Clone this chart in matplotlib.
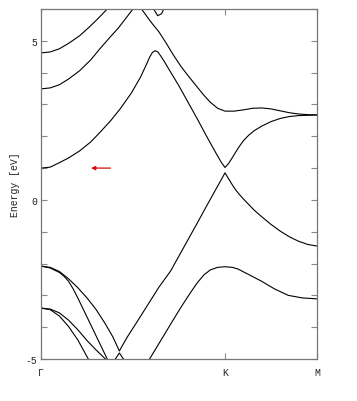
import numpy as np
import matplotlib
matplotlib.use("Agg")
import matplotlib.pyplot as plt

# k-path: Gamma = 0, K = 1, M = 1.5 ; energies in eV
k_a = [0, 0.05, 0.10, 0.15, 0.21, 0.27, 0.32, 0.38, 0.43, 0.49, 0.54, 0.57, 0.59, 0.605, 0.62,
       0.635, 0.65, 0.67, 0.70, 0.75, 0.80, 0.85, 0.90, 0.95, 0.98, 1.0,
       1.02, 1.04, 1.06, 1.08, 1.10, 1.13, 1.16, 1.20, 1.25, 1.30, 1.35, 1.40, 1.5]
e_a = [1.00, 1.03, 1.17, 1.32, 1.54, 1.82, 2.12, 2.50, 2.86, 3.35, 3.85, 4.22, 4.48, 4.63, 4.69,
       4.65, 4.53, 4.35, 4.06, 3.58, 3.06, 2.54, 2.00, 1.48, 1.18, 1.02,
       1.15, 1.33, 1.52, 1.70, 1.86, 2.04, 2.18, 2.32, 2.46, 2.56, 2.62, 2.65, 2.67]

k_b = [0, 0.05, 0.10, 0.15, 0.21, 0.27, 0.32, 0.37, 0.42, 0.46, 0.50, 0.52, 0.535,
       0.546, 0.565, 0.585, 0.61, 0.64, 0.68, 0.72, 0.76, 0.80, 0.85, 0.885, 0.92, 0.96, 1.0,
       1.05, 1.10, 1.15, 1.20, 1.25, 1.30, 1.35, 1.40, 1.45, 1.5]
e_b = [3.49, 3.52, 3.62, 3.80, 4.06, 4.40, 4.75, 5.08, 5.40, 5.70, 6.00, 6.10, 6.08,
       6.00, 5.85, 5.69, 5.50, 5.29, 4.93, 4.55, 4.20, 3.90, 3.54, 3.29, 3.07, 2.88, 2.79,
       2.79, 2.83, 2.88, 2.89, 2.86, 2.80, 2.74, 2.70, 2.68, 2.67]

k_c = [0, 0.05, 0.10, 0.15, 0.21, 0.26, 0.31, 0.36, 0.40, 0.45, 0.55, 0.60, 0.612,
       0.634, 0.655, 0.667, 0.70]
e_c = [4.62, 4.65, 4.75, 4.92, 5.16, 5.42, 5.70, 6.00, 6.25, 6.50, 6.50, 6.05, 6.00,
       5.79, 5.85, 6.00, 6.30]

k_v1 = [0, 0.05, 0.10, 0.15, 0.20, 0.25, 0.30, 0.35, 0.39, 0.41, 0.426,
        0.44, 0.47, 0.52, 0.58, 0.64, 0.705, 0.75, 0.80, 0.85, 0.90, 0.95, 0.98, 1.0,
        1.02, 1.04, 1.06, 1.08, 1.10, 1.13, 1.16, 1.20, 1.25, 1.30, 1.35, 1.40, 1.45, 1.5]
e_v1 = [-2.08, -2.12, -2.25, -2.48, -2.76, -3.08, -3.45, -3.90, -4.30, -4.55, -4.75,
        -4.60, -4.30, -3.85, -3.30, -2.75, -2.23, -1.76, -1.24, -0.72, -0.19, 0.33, 0.64, 0.85,
        0.66, 0.47, 0.30, 0.16, 0.03, -0.15, -0.33, -0.53, -0.77, -0.98, -1.16, -1.30, -1.40, -1.45]

k_v2 = [0, 0.05, 0.10, 0.125, 0.15, 0.175, 0.20, 0.25, 0.30, 0.36, 0.38]
e_v2 = [-2.08, -2.14, -2.28, -2.40, -2.56, -2.80, -3.08, -3.68, -4.28, -5.00, -5.25]

k_v3 = [0.57, 0.59, 0.65, 0.705, 0.76, 0.814, 0.85, 0.885, 0.92, 0.96, 1.0,
        1.04, 1.07, 1.12, 1.197, 1.27, 1.344, 1.42, 1.5]
e_v3 = [-5.20, -5.00, -4.43, -3.90, -3.38, -2.90, -2.60, -2.36, -2.20, -2.12, -2.10,
        -2.12, -2.17, -2.32, -2.55, -2.80, -3.00, -3.08, -3.11]

k_l1 = [0, 0.05, 0.10, 0.15, 0.20, 0.25, 0.30, 0.35, 0.37]
e_l1 = [-3.40, -3.43, -3.55, -3.78, -4.08, -4.42, -4.72, -5.00, -5.15]

k_l2 = [0, 0.05, 0.10, 0.15, 0.20, 0.257, 0.28]
e_l2 = [-3.40, -3.45, -3.65, -3.98, -4.40, -5.00, -5.25]

k_hump = [0.39, 0.404, 0.426, 0.448, 0.47]
e_hump = [-5.30, -5.00, -4.81, -5.00, -5.25]

bands = [(k_a, e_a), (k_b, e_b), (k_c, e_c), (k_v1, e_v1), (k_v2, e_v2),
         (k_v3, e_v3), (k_l1, e_l1), (k_l2, e_l2), (k_hump, e_hump)]

kpoints = [0, 1.0, 1.5]
klabels = ["\u0393", "K", "M"]
yticks = list(range(-5, 7))
ylabels = ["-5", "", "", "", "", "0", "", "", "", "", "5", ""]

plt.rcParams["font.family"] = ["Liberation Mono", "DejaVu Sans Mono"]
plt.rcParams["font.size"] = 7

fig = plt.figure(figsize=(3.57, 4.02), dpi=100)
ax = fig.add_axes([41/357, 42/402, 276/357, 350/402])

for kk, ee in bands:
    ax.plot(kk, ee, color="black", lw=0.8)

ax.annotate("", xy=(0.257, 1.0), xytext=(0.393, 1.0),
            arrowprops=dict(arrowstyle="-|>", color="#d01010", lw=0.9,
                            mutation_scale=6))

ax.set_xlim(0, 1.5)
ax.set_ylim(-5, 6)
ax.set_xticks(kpoints)
ax.set_xticklabels(klabels)
ax.set_yticks(yticks)
ax.set_yticklabels(ylabels)
ax.tick_params(axis="both", direction="in", color="#888888", length=4,
               top=True, right=True, labelcolor="#222222")
ax.tick_params(axis="x", pad=6)
ax.tick_params(axis="y", pad=3)
for s in ax.spines.values():
    s.set_color("#777777")
    s.set_linewidth(0.9)
ax.set_ylabel("Energy [eV]", color="#222222", labelpad=4)

fig.savefig("out.png", dpi=100)
